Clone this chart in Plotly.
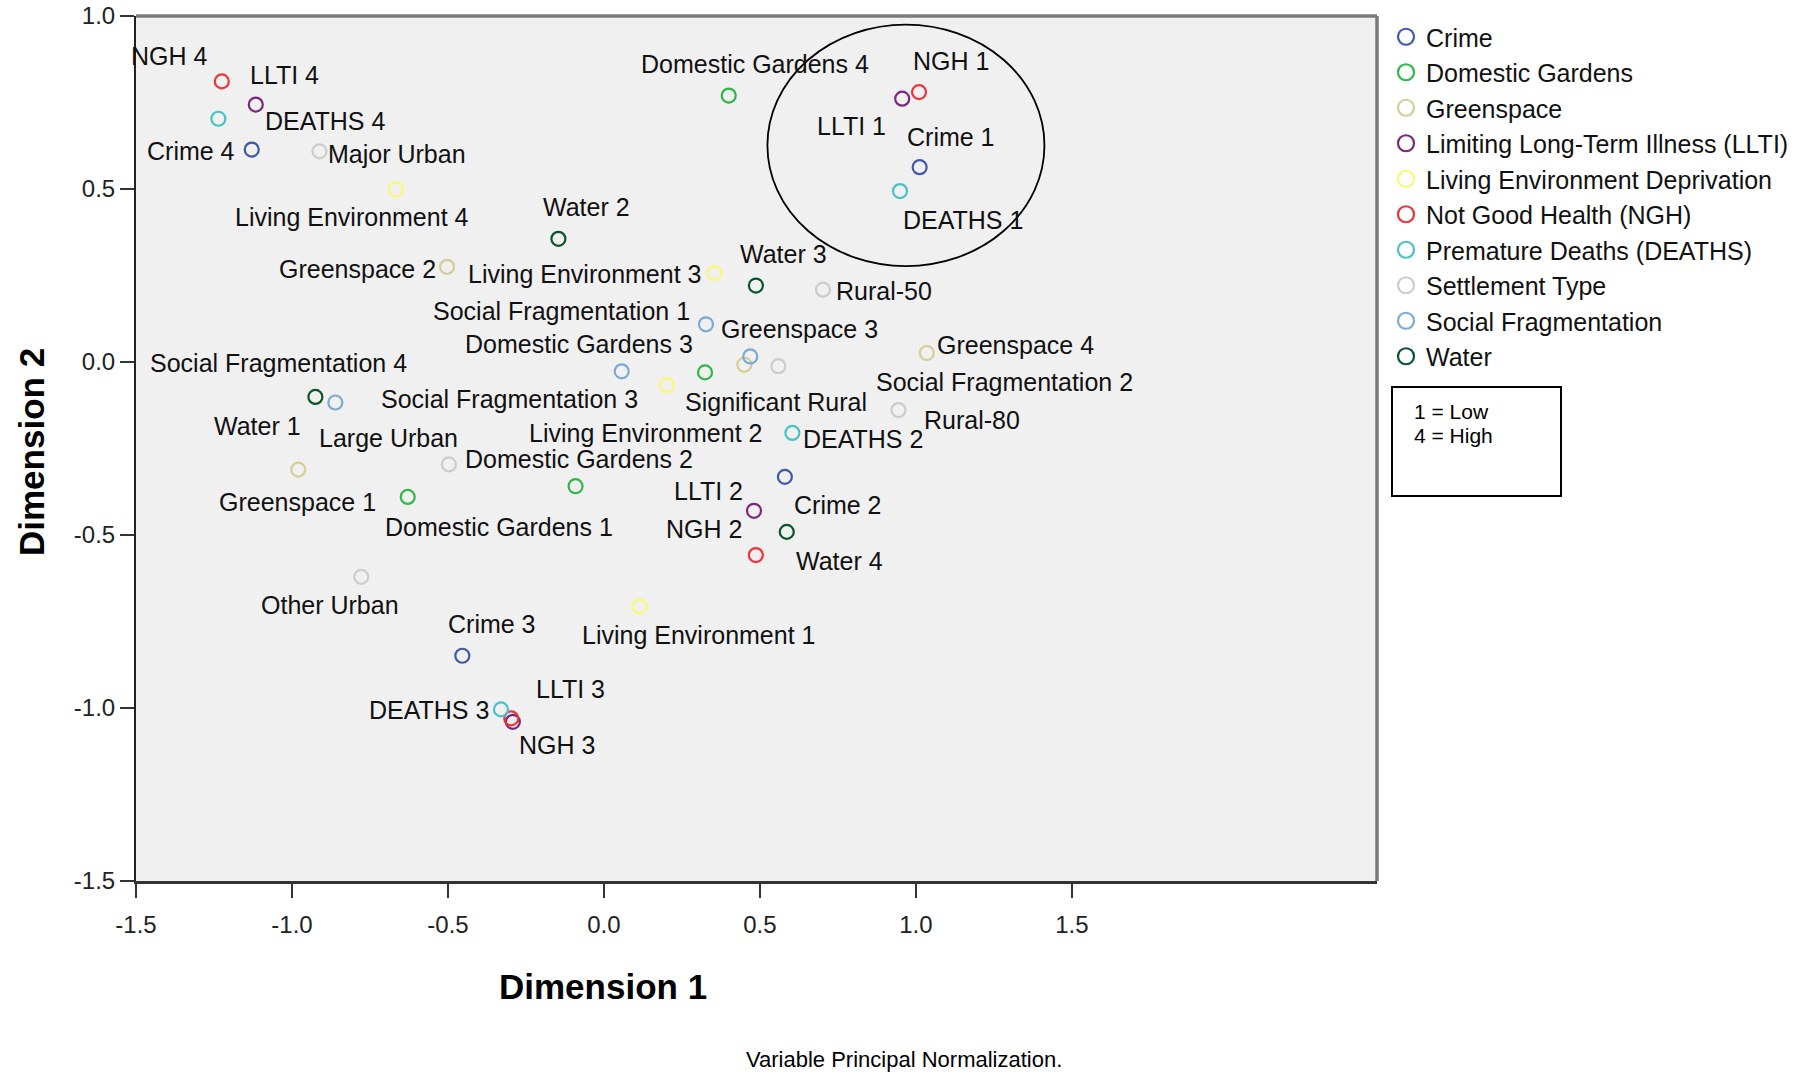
import plotly.graph_objects as go

# ---------------- data ----------------
variables = ["Crime", "Domestic Gardens", "Greenspace", "Limiting Long-Term Illness (LLTI)",
             "Living Environment Deprivation", "Not Good Health (NGH)", "Premature Deaths (DEATHS)",
             "Settlement Type", "Social Fragmentation", "Water"]

crime_labels = ["Crime 1", "Crime 2", "Crime 3", "Crime 4"]
crime_dim1 = [1.012, 0.580, -0.454, -1.129]
crime_dim2 = [0.563, -0.332, -0.849, 0.614]

gardens_labels = ["Domestic Gardens 1", "Domestic Gardens 2", "Domestic Gardens 3", "Domestic Gardens 4"]
gardens_dim1 = [-0.629, -0.091, 0.324, 0.400]
gardens_dim2 = [-0.390, -0.359, -0.030, 0.770]

green_labels = ["Greenspace 1", "Greenspace 2", "Greenspace 3", "Greenspace 4"]
green_dim1 = [-0.980, -0.503, 0.450, 1.035]
green_dim2 = [-0.311, 0.275, -0.008, 0.026]

llti_labels = ["LLTI 1", "LLTI 2", "LLTI 3", "LLTI 4"]
llti_dim1 = [0.956, 0.481, -0.292, -1.116]
llti_dim2 = [0.761, -0.430, -1.040, 0.744]

living_labels = ["Living Environment 1", "Living Environment 2", "Living Environment 3", "Living Environment 4"]
living_dim1 = [0.114, 0.201, 0.354, -0.667]
living_dim2 = [-0.706, -0.067, 0.257, 0.499]

ngh_labels = ["NGH 1", "NGH 2", "NGH 3", "NGH 4"]
ngh_dim1 = [1.010, 0.487, -0.297, -1.225]
ngh_dim2 = [0.780, -0.558, -1.030, 0.811]

deaths_labels = ["DEATHS 1", "DEATHS 2", "DEATHS 3", "DEATHS 4"]
deaths_dim1 = [0.949, 0.604, -0.330, -1.236]
deaths_dim2 = [0.494, -0.205, -1.004, 0.703]

settle_labels = ["Major Urban", "Large Urban", "Other Urban", "Significant Rural", "Rural-50", "Rural-80"]
settle_dim1 = [-0.912, -0.497, -0.778, 0.559, 0.702, 0.944]
settle_dim2 = [0.609, -0.296, -0.621, -0.012, 0.209, -0.139]

social_labels = ["Social Fragmentation 1", "Social Fragmentation 2", "Social Fragmentation 3", "Social Fragmentation 4"]
social_dim1 = [0.327, 0.469, 0.057, -0.861]
social_dim2 = [0.109, 0.016, -0.027, -0.117]

water_labels = ["Water 1", "Water 2", "Water 3", "Water 4"]
water_dim1 = [-0.925, -0.146, 0.487, 0.586]
water_dim2 = [-0.101, 0.356, 0.221, -0.491]

x_ticks = [-1.5, -1.0, -0.5, 0.0, 0.5, 1.0, 1.5]
y_ticks = [-1.5, -1.0, -0.5, 0.0, 0.5, 1.0]

# ---------------- styling ----------------
colors = ["#3E58AC", "#2EB848", "#D3CE97", "#7C287D", "#FBF873",
          "#EF3338", "#48C2C5", "#CCCCCC", "#7AAAD5", "#0A562C"]

series = [
    (crime_labels, crime_dim1, crime_dim2),
    (gardens_labels, gardens_dim1, gardens_dim2),
    (green_labels, green_dim1, green_dim2),
    (llti_labels, llti_dim1, llti_dim2),
    (living_labels, living_dim1, living_dim2),
    (ngh_labels, ngh_dim1, ngh_dim2),
    (deaths_labels, deaths_dim1, deaths_dim2),
    (settle_labels, settle_dim1, settle_dim2),
    (social_labels, social_dim1, social_dim2),
    (water_labels, water_dim1, water_dim2),
]

# label placement: (anchor, dx px, dy px downward) relative to the point
label_pos = {
    "Crime 1": ("left", -15, -30), "Crime 2": ("left", 7, 28), "Crime 3": ("left", -16, -32),
    "Crime 4": ("right", -15, 1),
    "Domestic Gardens 1": ("left", -25, 30), "Domestic Gardens 2": ("center", 3, -27),
    "Domestic Gardens 3": ("right", -10, -28), "Domestic Gardens 4": ("left", -90, -32),
    "Greenspace 1": ("center", -1, 32), "Greenspace 2": ("right", -9, 2),
    "Greenspace 3": ("left", -25, -36), "Greenspace 4": ("left", 8, -8),
    "LLTI 1": ("right", -14, 27), "LLTI 2": ("right", -9, -20), "LLTI 3": ("left", 21, -33),
    "LLTI 4": ("left", -8, -30),
    "Living Environment 1": ("left", -60, 29), "Living Environment 2": ("center", -21, 48),
    "Living Environment 3": ("right", -11, 1), "Living Environment 4": ("center", -44, 28),
    "NGH 1": ("left", -8, -31), "NGH 2": ("right", -12, -26), "NGH 3": ("left", 6, 27),
    "NGH 4": ("right", -12, -25),
    "DEATHS 1": ("left", 1, 29), "DEATHS 2": ("left", 9, 6), "DEATHS 3": ("right", -10, 1),
    "DEATHS 4": ("left", 45, 2),
    "Major Urban": ("left", 7, 3), "Large Urban": ("right", 11, -26), "Other Urban": ("center", -31, 28),
    "Significant Rural": ("center", -2, 36), "Rural-50": ("left", 11, 1), "Rural-80": ("left", 24, 10),
    "Social Fragmentation 1": ("right", -14, -13), "Social Fragmentation 2": ("left", 124, 26),
    "Social Fragmentation 3": ("right", 18, 28), "Social Fragmentation 4": ("center", -57, -39),
    "Water 1": ("right", -12, 29), "Water 2": ("center", 28, -32), "Water 3": ("center", 28, -32),
    "Water 4": ("left", 7, 29),
}

FONT = "Liberation Sans, Arial, sans-serif"
W, H = 1816, 1073
PL, PR, PT, PB = 136, 1377, 16, 881   # plot area in pixels


def px_x(X):
    return (X - PL) / (PR - PL)


def px_y(Y):
    return (PB - Y) / (PB - PT)


fig = go.Figure()
annotations = []
for name, color, (labels, d1, d2) in zip(variables, colors, series):
    fig.add_trace(go.Scatter(
        x=d1, y=d2, mode="markers", name=name, legendgroup=name, showlegend=False,
        text=labels, hovertemplate="%{text}<br>(%{x:.2f}, %{y:.2f})<extra></extra>",
        marker=dict(symbol="circle-open", size=14, color=color, line=dict(width=2.2, color=color)),
    ))
    # legend entry (larger symbol)
    fig.add_trace(go.Scatter(
        x=[None], y=[None], mode="markers", name=name, legendgroup=name, showlegend=True,
        marker=dict(symbol="circle-open", size=20, color=color, line=dict(width=2.2, color=color)),
    ))
    for lab, xv, yv in zip(labels, d1, d2):
        anchor, dx, dy = label_pos[lab]
        annotations.append(dict(
            x=xv, y=yv, xref="x", yref="y", text=lab, showarrow=False,
            xanchor=anchor, yanchor="middle", xshift=dx, yshift=-dy,
            font=dict(family=FONT, size=25, color="#111111"),
        ))

# axis titles and footnote
annotations += [
    dict(x=px_x(603), y=px_y(986), xref="paper", yref="paper", text="<b>Dimension 1</b>",
         showarrow=False, xanchor="center", yanchor="middle",
         font=dict(family=FONT, size=35, color="#000000")),
    dict(x=px_x(31), y=px_y(452), xref="paper", yref="paper", text="<b>Dimension 2</b>",
         showarrow=False, xanchor="center", yanchor="middle", textangle=-90,
         font=dict(family=FONT, size=35, color="#000000")),
    dict(x=px_x(904), y=px_y(1059), xref="paper", yref="paper", text="Variable Principal Normalization.",
         showarrow=False, xanchor="center", yanchor="middle",
         font=dict(family=FONT, size=22, color="#000000")),
    dict(x=px_x(1412), y=px_y(411), xref="paper", yref="paper", text="1 = Low",
         showarrow=False, xanchor="left", yanchor="middle",
         font=dict(family=FONT, size=21, color="#000000")),
    dict(x=px_x(1412), y=px_y(435), xref="paper", yref="paper", text="4 = High",
         showarrow=False, xanchor="left", yanchor="middle",
         font=dict(family=FONT, size=21, color="#000000")),
]

shapes = [
    # ellipse highlighting cluster
    dict(type="circle", xref="x", yref="y", x0=0.524, x1=1.412, y0=0.277, y1=0.975,
         line=dict(color="#000000", width=1.8)),
    # frame top / right
    dict(type="line", xref="paper", yref="paper", x0=0, x1=1, y0=1, y1=1,
         line=dict(color="#7a7a7a", width=3.5)),
    dict(type="line", xref="paper", yref="paper", x0=1, x1=1, y0=0, y1=1,
         line=dict(color="#7a7a7a", width=3.5)),
    # key box
    dict(type="rect", xref="paper", yref="paper", x0=px_x(1392), x1=px_x(1561),
         y0=px_y(496), y1=px_y(387), line=dict(color="#000000", width=2)),
]

fig.update_layout(
    width=W, height=H,
    margin=dict(l=PL, r=W - PR, t=PT, b=H - PB, pad=0, autoexpand=False),
    paper_bgcolor="white", plot_bgcolor="#F0F0F0",
    font=dict(family=FONT, color="#111111"),
    showlegend=True,
    legend=dict(x=px_x(1386), y=1 - 14 / H, xref="paper", yref="container",
                xanchor="left", yanchor="top",
                font=dict(family=FONT, size=25, color="#111111"),
                bgcolor="rgba(0,0,0,0)", borderwidth=0, itemsizing="trace",
                tracegroupgap=0),
    annotations=annotations,
    shapes=shapes,
)

fig.update_xaxes(range=[-1.5, 2.478], tickvals=x_ticks, ticktext=[f"{v:.1f}" for v in x_ticks],
                 automargin=False,
                 showgrid=False, zeroline=False, showline=True, linecolor="#333333", linewidth=3,
                 ticks="outside", ticklen=14, tickwidth=2, tickcolor="#333333",
                 ticklabelstandoff=6,
                 tickfont=dict(family=FONT, size=24, color="#222222"))
fig.update_yaxes(range=[-1.5, 1.0], tickvals=y_ticks, ticktext=[f"{v:.1f}" for v in y_ticks],
                 automargin=False,
                 showgrid=False, zeroline=False, showline=True, linecolor="#222222", linewidth=2,
                 ticks="outside", ticklen=14, tickwidth=2, tickcolor="#333333",
                 tickfont=dict(family=FONT, size=24, color="#222222"))

fig.write_html("out.html", config={"displayModeBar": False},
               post_script="document.body.style.margin='0';document.body.style.overflow='hidden';")
